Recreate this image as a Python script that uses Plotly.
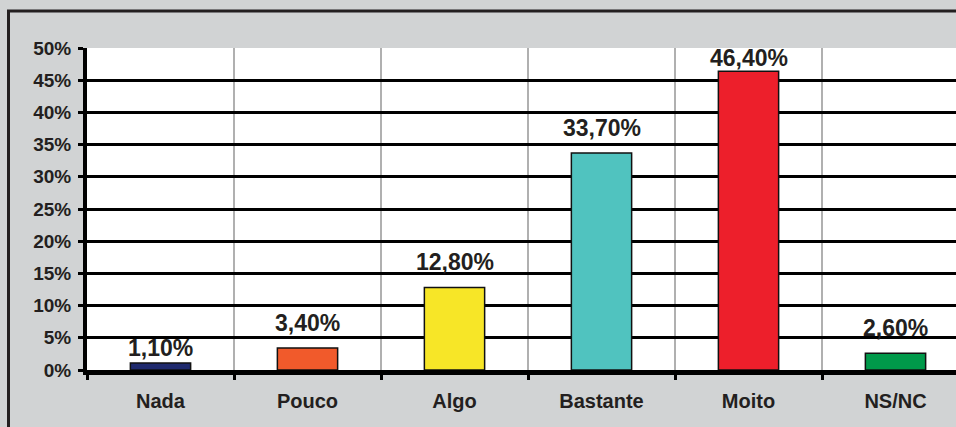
import plotly.graph_objects as go

categories = ["Nada", "Pouco", "Algo", "Bastante", "Moito", "NS/NC"]
values = [1.1, 3.4, 12.8, 33.7, 46.4, 2.6]
value_labels = ["1,10%", "3,40%", "12,80%", "33,70%", "46,40%", "2,60%"]
bar_colors = ["#1f2a6e", "#f15a2b", "#f7e627", "#50c3bf", "#ed1f2b", "#00994a"]
y_ticks = [0, 5, 10, 15, 20, 25, 30, 35, 40, 45, 50]
y_tick_labels = ["0%", "5%", "10%", "15%", "20%", "25%", "30%", "35%", "40%", "45%", "50%"]

# styling: pixel gap between bar top and its label (as in the original layout)
label_gap_px = [0, 10, 11, 10, -2, 10]

W, H = 956, 427
L, R, T, B = 87, 0, 48, 57
plot_w = W - L - R
plot_h = H - T - B
cat_px = 147.0
x_max = -0.5 + plot_w / cat_px

txt = "#231f20"
font_fam = "Liberation Sans, Arial, Helvetica, sans-serif"

fig = go.Figure()
fig.add_trace(go.Bar(
    x=categories,
    y=values,
    width=0.41,
    marker=dict(color=bar_colors, line=dict(color="#111111", width=1.5)),
    hoverinfo="skip",
))

for c, v, t, g in zip(categories, values, value_labels, label_gap_px):
    fig.add_annotation(x=c, y=v, text=t, showarrow=False, yanchor="bottom",
                       yshift=g, xanchor="center",
                       font=dict(family=font_fam, size=23, color=txt, weight="bold"))

# outer border (frame of the picture, cropped at right/bottom)
bx = (8.5 - L) / plot_w
by = 1 + (T - 11) / plot_h
fig.add_shape(type="rect", xref="paper", yref="paper",
              x0=bx, x1=2, y0=-2, y1=by,
              line=dict(color="#231f20", width=3), fillcolor="rgba(0,0,0,0)", layer="below")

fig.update_layout(
    width=W, height=H,
    margin=dict(l=L, r=R, t=T, b=B, pad=0),
    paper_bgcolor="#d1d3d4",
    plot_bgcolor="#ffffff",
    showlegend=False,
    font=dict(family=font_fam, color=txt),
    xaxis=dict(
        range=[-0.5, x_max],
        tickson="boundaries",
        showgrid=True, gridcolor="#b0b0b0", gridwidth=2,
        ticks="outside", ticklen=5, tickwidth=3, tickcolor="#000000",
        tickfont=dict(family=font_fam, size=20, color=txt, weight="bold"),
        ticklabelstandoff=9,
        showline=True, linecolor="#000000", linewidth=5,
        zeroline=False, fixedrange=True,
    ),
    yaxis=dict(
        range=[0, 50],
        tickvals=y_ticks, ticktext=y_tick_labels,
        showgrid=True, gridcolor="#000000", gridwidth=3,
        ticks="outside", ticklen=5, tickwidth=3, tickcolor="#000000",
        tickfont=dict(family=font_fam, size=19, color=txt, weight="bold"),
        ticklabelstandoff=3,
        showline=True, linecolor="#000000", linewidth=4,
        zeroline=False, fixedrange=True,
    ),
)

fig.write_html("out.html", config={"displayModeBar": False},
               post_script="document.body.style.margin='0';document.body.style.overflow='hidden';")
